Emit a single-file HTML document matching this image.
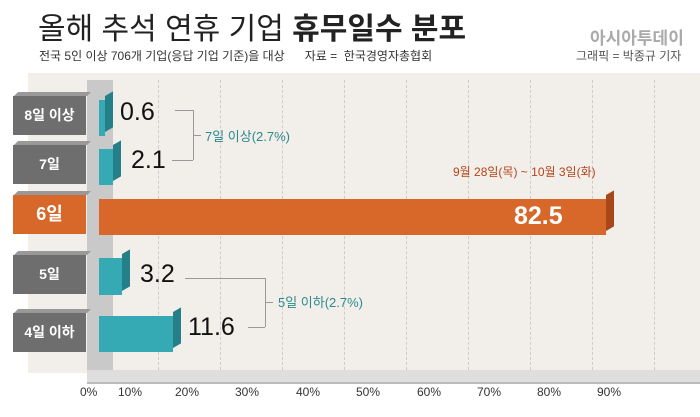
<!DOCTYPE html>
<html><head><meta charset="utf-8"><style>
body{margin:0;width:700px;height:417px;background:#fff;position:relative;overflow:hidden;font-family:"Liberation Sans","Noto Sans CJK KR",sans-serif}
div{position:absolute}
.lab{left:13px;width:73px;height:39px;background:#6e6e6e;color:#fff;font-size:14px;font-weight:bold;text-align:center;line-height:39px}
.lab:before{content:"";position:absolute;left:3px;top:-4px;width:73px;height:4px;background:#999;transform:skewX(-45deg)}
.bar{left:99px;background:#35aab5}
.bar .s{position:absolute;top:-4px;right:-8px;width:8px;height:100%;background:#257f88;transform:skewY(-30deg);transform-origin:left bottom}
.v{font-size:25px;color:#111;font-weight:500}
.ax{top:385px;font-size:12px;color:#333}
.g{top:80px;height:290px;border-left:1px dashed #ccc}
.ln{border-top:1px solid #999;height:0}
</style></head><body>
<div style="left:38px;top:4px;font-size:30px;color:#222;white-space:nowrap">올해 추석 연휴 기업 <b>휴무일수 분포</b></div>
<div style="left:39px;top:47px;font-size:12px;color:#333;white-space:nowrap">전국 5인 이상 706개 기업(응답 기업 기준)을 대상 &nbsp;&nbsp;&nbsp;&nbsp; 자료 = &nbsp;한국경영자총협회</div>
<div style="left:590px;top:24px;font-size:17px;color:#aaa;font-weight:bold">아시아투데이</div>
<div style="left:576px;top:47px;font-size:12px;color:#555">그래픽 = 박종규 기자</div>
<div style="left:28px;top:73px;width:672px;height:300px;background:#f2eee9"></div>
<div class="g" style="left:158px"></div><div class="g" style="left:220px"></div><div class="g" style="left:282px"></div><div class="g" style="left:344px"></div><div class="g" style="left:406px"></div><div class="g" style="left:468px"></div><div class="g" style="left:530px"></div><div class="g" style="left:592px"></div><div class="g" style="left:654px"></div>
<div style="left:87px;top:80px;width:26px;height:295px;background:#c9c9c9"></div>
<div style="left:87px;top:370px;width:613px;height:12px;background:#dedede"></div>
<div style="left:87px;top:382px;width:613px;height:2px;background:#bbb"></div>
<div class="lab" style="top:96px">8일 이상</div>
<div class="lab" style="top:145px">7일</div>
<div class="lab" style="top:195px;background:#d8672a;font-size:18px">6일</div>
<div class="lab" style="top:255px">5일</div>
<div class="lab" style="top:313px">4일 이하</div>
<div class="bar" style="top:100px;width:6px;height:36px"><div class="s"></div></div>
<div class="bar" style="top:149px;width:14px;height:36px"><div class="s"></div></div>
<div class="bar" style="top:199px;width:507px;height:36px;background:#d8672a"><div class="s" style="background:#a8481a"></div></div>
<div class="bar" style="top:258px;width:23px;height:37px"><div class="s"></div></div>
<div class="bar" style="top:316px;width:74px;height:36px"><div class="s"></div></div>
<div class="v" style="left:120px;top:98px">0.6</div>
<div class="v" style="left:131px;top:146px">2.1</div>
<div class="v" style="left:514px;top:202px;color:#fff;font-weight:bold">82.5</div>
<div class="v" style="left:140px;top:260px">3.2</div>
<div class="v" style="left:188px;top:313px">11.6</div>
<div class="ln" style="left:175px;top:110px;width:18px"></div>
<div class="ln" style="left:172px;top:160px;width:21px"></div>
<div style="left:193px;top:110px;height:50px;border-left:1px solid #999"></div>
<div class="ln" style="left:193px;top:135px;width:8px"></div>
<div style="left:205px;top:126px;font-size:13px;color:#2a8a8e">7일 이상(2.7%)</div>
<div class="ln" style="left:185px;top:278px;width:80px"></div>
<div class="ln" style="left:248px;top:327px;width:17px"></div>
<div style="left:265px;top:278px;height:49px;border-left:1px solid #999"></div>
<div class="ln" style="left:265px;top:302px;width:8px"></div>
<div style="left:278px;top:292px;font-size:13px;color:#2a8a8e">5일 이하(2.7%)</div>
<div style="left:453px;top:163px;font-size:12px;color:#b5451a">9월 28일(목) ~ 10월 3일(화)</div>
<div class="ax" style="left:80px">0%</div><div class="ax" style="left:118px">10%</div><div class="ax" style="left:175px">20%</div><div class="ax" style="left:235px">30%</div><div class="ax" style="left:296px">40%</div><div class="ax" style="left:356px">50%</div><div class="ax" style="left:417px">60%</div><div class="ax" style="left:477px">70%</div><div class="ax" style="left:537px">80%</div><div class="ax" style="left:597px">90%</div>
</body></html>
